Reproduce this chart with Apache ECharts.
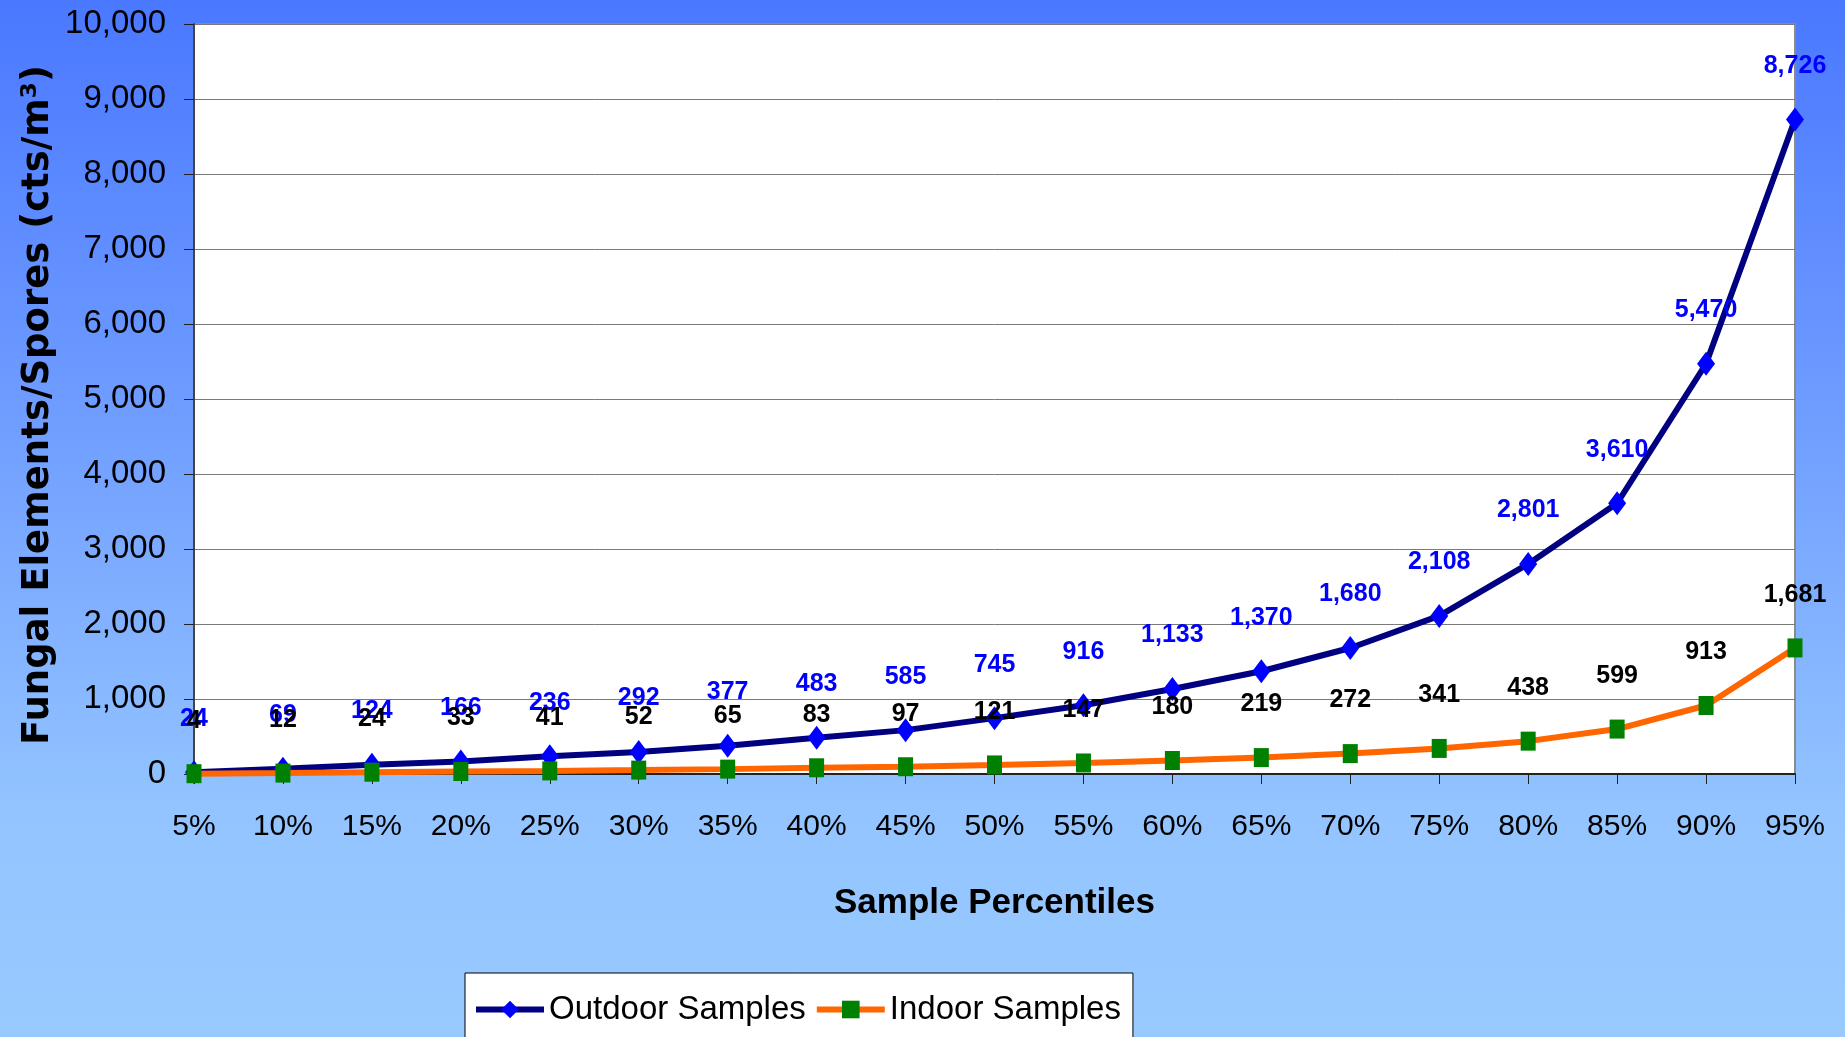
<!DOCTYPE html>
<html>
<head>
<meta charset="utf-8">
<script src="https://cdn.jsdelivr.net/npm/echarts@6/dist/echarts.min.js"></script>
<style>
html, body { margin:0; padding:0; width:1845px; height:1037px; overflow:hidden;
  background: linear-gradient(to bottom, #4a78ff 0%, #6f9dff 40%, #93c4ff 78%, #98caff 100%); }
#chart { width:1845px; height:1037px; }
</style>
</head>
<body>
<div id="chart"></div>
<script>
const categories = ['5%','10%','15%','20%','25%','30%','35%','40%','45%','50%','55%','60%','65%','70%','75%','80%','85%','90%','95%'];
const outdoorValues = [24, 69, 124, 166, 236, 292, 377, 483, 585, 745, 916, 1133, 1370, 1680, 2108, 2801, 3610, 5470, 8726];
const indoorValues = [4, 12, 24, 33, 41, 52, 65, 83, 97, 121, 147, 180, 219, 272, 341, 438, 599, 913, 1681];
const seriesNames = ['Outdoor Samples', 'Indoor Samples'];
const xTitle = 'Sample Percentiles';
const yTitle = 'Fungal Elements/Spores (cts/m³)';

const FONT = '"Liberation Sans", Arial, sans-serif';
const fmt = v => Number(v).toLocaleString('en-US');

const chart = echarts.init(document.getElementById('chart'), null, {renderer:'canvas'});
chart.setOption({
  backgroundColor: 'transparent',
  animation: false,
  grid: { left:194, right:50, top:24, bottom:263, show:true, backgroundColor:'#ffffff', borderColor:'#8a8a8a', borderWidth:2 },
  xAxis: {
    type:'category', data:categories, boundaryGap:false,
    axisLine:{ show:true, lineStyle:{ color:'#222', width:2 } },
    axisTick:{ show:true, alignWithLabel:true, length:10, lineStyle:{ color:'#222', width:1 } },
    axisLabel:{ fontSize:30, color:'#000', fontFamily:FONT, margin:38 },
    name: xTitle, nameLocation:'middle', nameGap:112,
    nameTextStyle:{ fontSize:35, fontWeight:'bold', color:'#000', fontFamily:FONT }
  },
  yAxis: {
    type:'value', min:0, max:10000, interval:1000,
    axisLine:{ show:true, lineStyle:{ color:'#444', width:2 } },
    axisTick:{ show:true, length:10, lineStyle:{ color:'#222', width:1 } },
    axisLabel:{ fontSize:33, color:'#000', fontFamily:FONT, margin:28, formatter: v => fmt(v) },
    splitLine:{ show:true, lineStyle:{ color:'#7a7a7a', width:1 } }
  },
  legend: {
    left:465, top:973,
    backgroundColor:'#ffffff', borderColor:'#000', borderWidth:1,
    padding:[20, 12, 40, 8],
    itemWidth:68, itemHeight:22, itemGap:8,
    lineStyle:{ width:6 },
    textStyle:{ fontSize:33, color:'#000', fontFamily:FONT },
    data: seriesNames
  },
  graphic: [{
    type:'text', x:38, y:405, rotation:Math.PI/2,
    style:{ text:yTitle, fontSize:37, fontWeight:'bold', fill:'#000',
      fontFamily:'"DejaVu Sans", sans-serif', textAlign:'center', textVerticalAlign:'middle' }
  }],
  series: [
    {
      name: seriesNames[0], type:'line', data: outdoorValues,
      symbol:'diamond', symbolSize:[18,24],
      lineStyle:{ color:'#000080', width:6 },
      itemStyle:{ color:'#0000ff' },
      label:{ show:true, position:'top', distance:29, fontSize:25, fontWeight:'bold',
        color:'#0000ff', fontFamily:FONT, formatter: p => fmt(p.value) },
      z:2
    },
    {
      name: seriesNames[1], type:'line', data: indoorValues,
      symbol:'rect', symbolSize:[15,19],
      lineStyle:{ color:'#ff6600', width:6 },
      itemStyle:{ color:'#008000' },
      label:{ show:true, position:'top', distance:31, fontSize:25, fontWeight:'bold',
        color:'#000000', fontFamily:FONT, formatter: p => fmt(p.value) },
      z:3
    }
  ]
});
</script>
</body>
</html>
